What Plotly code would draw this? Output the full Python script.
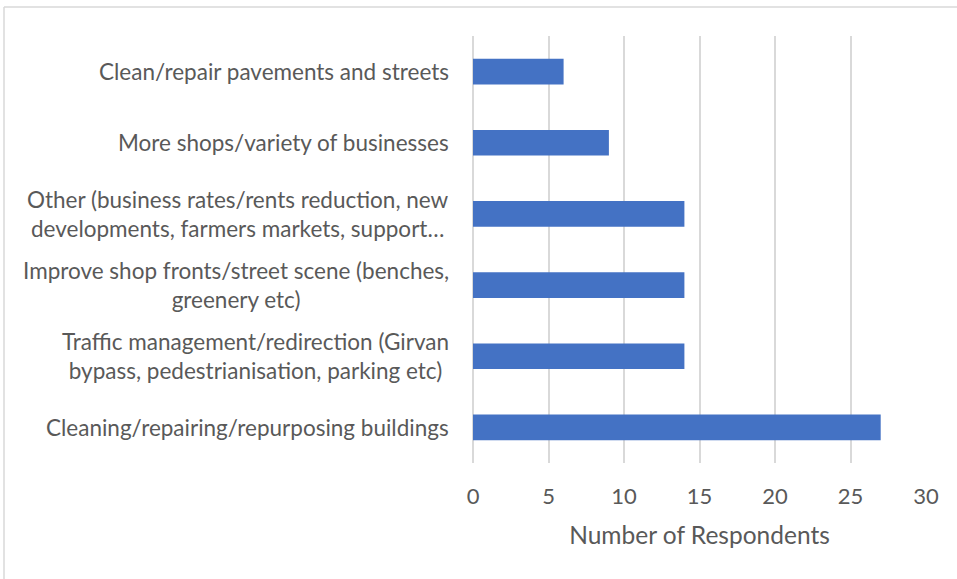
import plotly.graph_objects as go

categories = [
    "Clean/repair pavements and streets",
    "More shops/variety of businesses",
    "Other (business rates/rents reduction, new<br>developments, farmers markets, support…",
    "Improve shop fronts/street scene (benches,<br>greenery etc)",
    "Traffic management/redirection (Girvan<br>bypass, pedestrianisation, parking etc)",
    "Cleaning/repairing/repurposing buildings",
]
values = [6, 9, 14, 14, 14, 27]
x_ticks = [0, 5, 10, 15, 20, 25, 30]
x_title = "Number of Respondents"

FONT = "Lato"
TXT = "#595959"
W, H = 957, 579
L, R, T, B = 473, 31, 36, 116

fig = go.Figure()
fig.add_trace(go.Bar(
    x=values, y=categories, orientation="h",
    marker=dict(color="#4472C4", line=dict(width=0)),
    width=0.36, hoverinfo="skip",
))

annotations = []
for cat in categories:
    annotations.append(dict(
        x=0, xref="paper", y=cat, yref="y", text=cat, showarrow=False,
        xanchor="right", yanchor="middle", xshift=-22, align="center",
        font=dict(family=FONT, size=22.5, color=TXT),
    ))
fig.update_layout(annotations=annotations)

pw = W - L - R
ph = H - T - B
def px2x(p):
    return (p - L) / pw
def py2y(p):
    return (H - B - p) / ph

fig.add_shape(type="line", xref="paper", yref="paper",
              x0=px2x(4), x1=px2x(W + 5), y0=py2y(7), y1=py2y(7),
              line=dict(color="#D9D9D9", width=1.5))
fig.add_shape(type="line", xref="paper", yref="paper",
              x0=px2x(4), x1=px2x(4), y0=py2y(7), y1=py2y(H + 5),
              line=dict(color="#D9D9D9", width=1.5))

fig.update_xaxes(
    range=[0, 30], tickvals=x_ticks, showgrid=True, gridcolor="#D9D9D9", gridwidth=1.5,
    zeroline=True, zerolinecolor="#D9D9D9", zerolinewidth=1.5, showline=False,
    tickfont=dict(family=FONT, size=22, color=TXT), ticks="", ticklen=0,
    ticklabelstandoff=18,
    title=dict(text=x_title, font=dict(family=FONT, size=24.5, color=TXT), standoff=18),
)
fig.update_yaxes(autorange="reversed", showticklabels=False, showgrid=False,
                 showline=False, zeroline=False)

fig.update_layout(
    width=W, height=H, margin=dict(l=L, r=R, t=T, b=B),
    plot_bgcolor="white", paper_bgcolor="white", showlegend=False,
)
fig.write_html("out.html", config={"displayModeBar": False},
               post_script="document.body.style.margin='0px';")
